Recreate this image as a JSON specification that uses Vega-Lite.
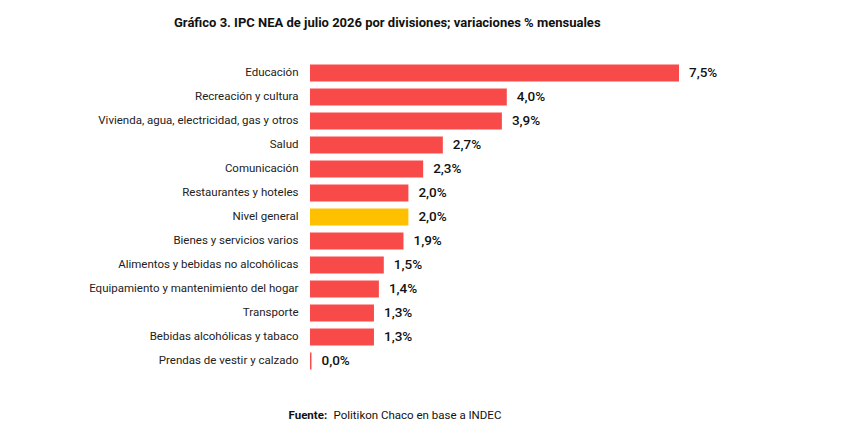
{
  "$schema": "https://vega.github.io/schema/vega-lite/v6.json",
  "autosize": "none",
  "padding": {"left": 310, "top": 61, "right": 176, "bottom": 67},
  "width": 369,
  "height": 312,
  "background": "white",
  "config": {"view": {"stroke": null}, "font": "Roboto"},
  "title": {"text": "Gráfico 3. IPC NEA de julio 2026 por divisiones; variaciones % mensuales", "anchor": "start", "frame": "group", "dx": -136, "offset": 31, "fontSize": 13, "fontWeight": "bold", "color": "#111", "font": "Roboto"},
  "data": {"values": [
    {"d": "Educación", "v": 7.5, "lab": "7,5%", "g": "n"},
    {"d": "Recreación y cultura", "v": 4.0, "lab": "4,0%", "g": "n"},
    {"d": "Vivienda, agua, electricidad, gas y otros", "v": 3.9, "lab": "3,9%", "g": "n"},
    {"d": "Salud", "v": 2.7, "lab": "2,7%", "g": "n"},
    {"d": "Comunicación", "v": 2.3, "lab": "2,3%", "g": "n"},
    {"d": "Restaurantes y hoteles", "v": 2.0, "lab": "2,0%", "g": "n"},
    {"d": "Nivel general", "v": 2.0, "lab": "2,0%", "g": "g"},
    {"d": "Bienes y servicios varios", "v": 1.9, "lab": "1,9%", "g": "n"},
    {"d": "Alimentos y bebidas no alcohólicas", "v": 1.5, "lab": "1,5%", "g": "n"},
    {"d": "Equipamiento y mantenimiento del hogar", "v": 1.4, "lab": "1,4%", "g": "n"},
    {"d": "Transporte", "v": 1.3, "lab": "1,3%", "g": "n"},
    {"d": "Bebidas alcohólicas y tabaco", "v": 1.3, "lab": "1,3%", "g": "n"},
    {"d": "Prendas de vestir y calzado", "v": 0.03, "lab": "0,0%", "g": "n"}
  ]},
  "encoding": {
    "y": {"field": "d", "type": "nominal", "sort": null, "scale": {"paddingInner": 0.3, "paddingOuter": 0.15},
      "axis": {"title": null, "ticks": false, "domain": false, "labelPadding": 12, "labelFontSize": 11.5, "labelColor": "#222", "labelLimit": 300, "labelFont": "Roboto"}}
  },
  "layer": [
    {
      "mark": {"type": "bar"},
      "encoding": {
        "x": {"field": "v", "type": "quantitative", "scale": {"domain": [0, 7.5], "nice": false},
          "axis": {"labels": false, "ticks": false, "domain": false, "grid": false, "title": "Fuente:", "titleFont": "Roboto", "titleFontSize": 11.5, "titleFontWeight": "bold", "titleAlign": "left", "titleX": -22, "titleY": 36, "titleColor": "#111"}},
        "color": {"field": "g", "type": "nominal", "scale": {"domain": ["n", "g"], "range": ["#F94A4A", "#FFC000"]}, "legend": null}
      }
    },
    {
      "mark": {"type": "text", "align": "left", "dx": 10, "fontSize": 13.5, "fontWeight": 500, "color": "#111", "font": "Roboto"},
      "encoding": {
        "x": {"field": "v", "type": "quantitative", "scale": {"domain": [0, 7.5], "nice": false},
          "axis": {"orient": "top", "labels": false, "ticks": false, "domain": false, "grid": false, "title": "Politikon Chaco en base a INDEC", "titleFont": "Roboto", "titleFontSize": 11.5, "titleFontWeight": "normal", "titleAlign": "left", "titleBaseline": "top", "titleX": 23, "titleY": 348, "titleColor": "#111"}},
        "text": {"field": "lab", "type": "nominal"}
      }
    }
  ],
  "resolve": {"axis": {"x": "independent"}}
}
